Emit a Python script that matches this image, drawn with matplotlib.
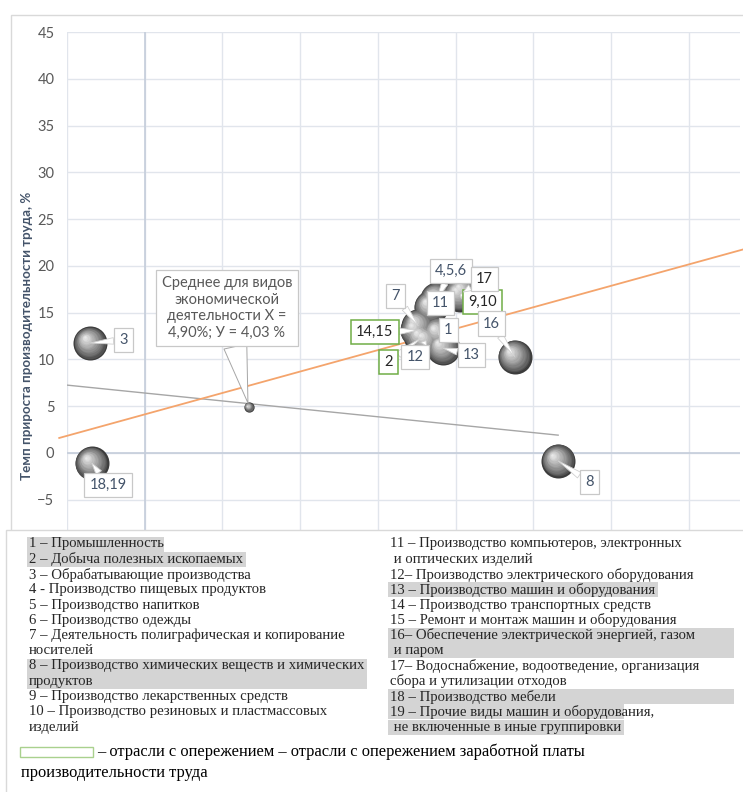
import numpy as np
import matplotlib.pyplot as plt
from matplotlib.patches import Rectangle
from matplotlib.transforms import offset_copy
from matplotlib.colors import to_rgb

W, H = 743, 792

# industries (labels) and their coordinates
labels = ['1', '2', '3', '4,5,6', '7', '8', '9,10', '11', '12', '13', '14,15', '16', '17', '18,19']
x_vals = [18.9, 17.8, -3.5, 18.8, 17.6, 26.6, 20.3, 18.4, 18.1, 19.2, 17.5, 23.8, 20.5, -3.4]
y_vals = [12.8, 12.3, 11.75, 16.45, 13.6, -0.85, 16.9, 15.6, 12.0, 11.2, 13.1, 10.3, 17.2, -1.1]
leading = ['2', '9,10', '14,15']   # green frames

# average point
mean_x, mean_y = 6.7, 4.9

# lines
trend_x = [-5.5, 38.6]
trend_y = [1.6, 21.8]
grey_x = [-5.0, 26.6]
grey_y = [7.25, 1.9]

# label offsets, pixels (dx right, dy down)
label_dx = [10, -33, 33, 14, -23, 31, 22, 10, -11, 28, -42, -23, 21, 16]
label_dy = [-3, 24, -3, -28, -30, 21, 7, -4, 16, 7, 2, -33, -13, 22]

legend_left = ['1 – Промышленность',
               '2 – Добыча полезных ископаемых',
               '3 – Обрабатывающие производства',
               '4 - Производство пищевых продуктов',
               '5 – Производство напитков',
               '6 – Производство одежды',
               '7 – Деятельность полиграфическая и копирование',
               'носителей',
               '8 – Производство химических веществ и химических',
               'продуктов',
               '9 – Производство лекарственных средств',
               '10 – Производство резиновых и пластмассовых',
               'изделий']
legend_right = ['11 – Производство компьютеров, электронных',
                ' и оптических изделий',
                '12– Производство электрического оборудования',
                '13 – Производство машин и оборудования',
                '14 – Производство транспортных средств',
                '15 – Ремонт и монтаж машин и оборудования',
                '16– Обеспечение электрической энергией, газом',
                ' и паром',
                '17– Водоснабжение, водоотведение, организация',
                'сбора и утилизации отходов',
                '18 – Производство мебели',
                '19 – Прочие виды машин и оборудования,',
                ' не включенные в иные группировки']
# highlighted lines: (column, line index, right edge px)
highlights = [(0, 0, 164), (0, 1, 246), (0, 8, 367), (0, 9, 367),
              (1, 3, 658), (1, 6, 734), (1, 7, 734), (1, 10, 734),
              (1, 11, 624), (1, 12, 624)]


def fx(p):
    return p / W


def fy(p):
    return 1 - p / H


def spheres(ax, xs, ys, size, z=3, n=14):
    dark = np.array(to_rgb('#3c3c3c'))
    light = np.array(to_rgb('#f4f4f4'))
    for k in range(n):
        t = k / n
        frac = 1 - t
        col = dark + (light - dark) * t ** 0.8
        d = np.sqrt(size) * 0.18 * t
        tr = offset_copy(ax.transData, fig=ax.figure, x=-d, y=d, units='points')
        ax.scatter(xs, ys, s=size * frac ** 2, color=col, transform=tr,
                   zorder=z, linewidths=0)


fig = plt.figure(figsize=(W / 100, H / 100), dpi=100)
ax = fig.add_axes([fx(67), fy(640), fx(740 - 67), (640 - 32) / H])

ax.set_xlim(-5, 38.3)
ax.set_ylim(-20, 45)
ax.set_xticks(np.arange(-5, 40, 5))
ax.set_yticks(np.arange(-20, 50, 5))
ax.grid(True, color='#e1e5ec', lw=1)
ax.set_axisbelow(True)
ax.axhline(0, color='#c5cddb', lw=1.2, zorder=1)
ax.axvline(0, color='#c5cddb', lw=1.2, zorder=1)
for s in ax.spines.values():
    s.set_visible(False)
ax.tick_params(axis='x', length=0, labelbottom=False)
ax.tick_params(axis='y', length=0, pad=9, labelsize=10.5, labelcolor='#595959')
for t in ax.get_yticklabels():
    t.set_fontfamily('Lato')
ax.set_ylabel('Темп прироста производительности труда, %', fontfamily='Lato',
              fontsize=9.6, fontweight='bold', color='#44546a', labelpad=-3)

ax.plot(grey_x, grey_y, color='#a6a6a6', lw=1, zorder=2)
ax.plot(trend_x, trend_y, color='#f4a46c', lw=1.3, zorder=2, clip_on=False)

spheres(ax, x_vals, y_vals, 600)
spheres(ax, [mean_x], [mean_y], 55, z=4, n=6)

for i, lab in enumerate(labels):
    green = lab in leading
    ax.annotate(lab, (x_vals[i], y_vals[i]),
                xytext=(label_dx[i] * 0.72, -label_dy[i] * 0.72), textcoords='offset points',
                ha='center', va='center', fontsize=10.5, fontfamily='Lato',
                color='#262626' if lab in leading + ['17'] else '#44546a',
                bbox=dict(boxstyle='square,pad=0.35', fc='white',
                          ec='#70ad47' if green else '#c8c8c8', lw=1.1 if green else 0.9),
                arrowprops=dict(arrowstyle='wedge,tail_width=0.45,shrink_factor=0.5',
                                fc='white', ec='#d0d0d0', lw=0.6, shrinkA=0, shrinkB=0),
                zorder=6)

ax.annotate('Среднее для видов\nэкономической\nдеятельности Х =\n4,90%; У = 4,03 %',
            (mean_x, mean_y), xytext=(-22 * 0.72, 99 * 0.72), textcoords='offset points',
            ha='center', va='center', fontsize=10.5, fontfamily='Lato', color='#595959',
            linespacing=1.25,
            bbox=dict(boxstyle='square,pad=0.4', fc='white', ec='#c8c8c8', lw=0.9),
            arrowprops=dict(arrowstyle='wedge,tail_width=1.6,shrink_factor=0.5',
                            fc='white', ec='#a6a6a6', lw=0.7, shrinkA=0, shrinkB=3),
            zorder=6)

# chart area border
fig.add_artist(Rectangle((fx(11), fy(800)), fx(760), (800 - 15) / H, transform=fig.transFigure,
                         fc='none', ec='#d9d9d9', lw=1, zorder=5))

# legend block covering the lower part of the chart
fig.add_artist(Rectangle((fx(6), fy(800)), fx(760), (800 - 530) / H, transform=fig.transFigure,
                         fc='white', ec='#d9d9d9', lw=1, zorder=10))

col_x = [29, 390]
y0, step = 544, 15.25
for col, li, right in highlights:
    yc = y0 + li * step
    fig.add_artist(Rectangle((fx(col_x[col] - 2), fy(yc + 7.5)), fx(right - col_x[col] + 2), 15 / H,
                             transform=fig.transFigure, fc='#d4d4d4', ec='none', zorder=11))

for col, lines in enumerate([legend_left, legend_right]):
    for i, line in enumerate(lines):
        fig.text(fx(col_x[col]), fy(y0 + i * step), line, ha='left', va='center',
                 fontsize=10.6, fontfamily='Liberation Serif', color='#262626', zorder=12)

fig.add_artist(Rectangle((fx(20), fy(757)), fx(73), 10 / H, transform=fig.transFigure,
                         fc='white', ec='#a9d18e', lw=1, zorder=12))
fig.text(fx(97), fy(752), '– отрасли с опережением – отрасли с опережением заработной платы',
         ha='left', va='center', fontsize=11.9, fontfamily='Liberation Serif', color='black', zorder=12)
fig.text(fx(21), fy(773), 'производительности труда',
         ha='left', va='center', fontsize=11.9, fontfamily='Liberation Serif', color='black', zorder=12)

fig.savefig('out.png', dpi=100)
